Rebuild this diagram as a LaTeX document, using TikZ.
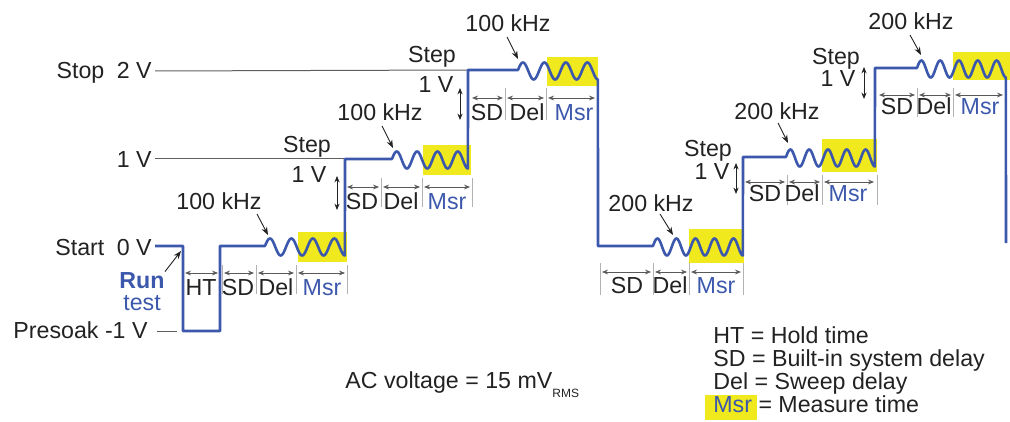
\documentclass[tikz,border=0pt]{standalone}
\usepackage{fontspec}
\setmainfont{Liberation Sans}
\usetikzlibrary{arrows.meta}
\definecolor{trblue}{RGB}{60,88,172}
\definecolor{msryellow}{RGB}{240,233,30}
\definecolor{txtdark}{RGB}{34,34,34}
\definecolor{guidegray}{RGB}{95,95,95}
\definecolor{tickgray}{RGB}{178,178,178}
\begin{document}
\begin{tikzpicture}[x=0.5pt,y=-0.5pt,
  lbl/.style={inner sep=0pt,anchor=base,text=txtdark,font=\fontsize{11.6}{13}\selectfont},
  lvl/.style={lbl,anchor=base east},
  msrlbl/.style={lbl,text=trblue},
  trace/.style={trblue,line width=1.3pt,line join=round},
  guide/.style={guidegray,line width=0.5pt},
  dimspan/.style={{Stealth[length=3pt,width=2.4pt]}-{Stealth[length=3pt,width=2.4pt]},txtdark!75,line width=0.4pt},
  divline/.style={tickgray,line width=0.5pt},
  stepspan/.style={{Stealth[length=3.2pt,width=2.6pt]}-{Stealth[length=3.2pt,width=2.6pt]},txtdark,line width=0.45pt},
  ptr/.style={-{Stealth[length=4pt,width=3pt]},txtdark,line width=0.45pt}]
\useasboundingbox (0,0) rectangle (1010,422);
\fill[msryellow] (298,232) rectangle (347,262);
\fill[msryellow] (423,145) rectangle (471,175);
\fill[msryellow] (547,57) rectangle (598,86);
\fill[msryellow] (689,229) rectangle (744,263);
\fill[msryellow] (822,139) rectangle (877,172);
\fill[msryellow] (953,52) rectangle (1010,80);
\node[lvl] (stop) at (152,79) {Stop\hspace{3pt} 2 V};
\node[lvl] (one) at (152,168) {1 V};
\node[lvl] (start) at (152,255) {Start\hspace{3pt} 0 V};
\node[lvl] (presoak) at (148,338) {Presoak -1 V};
\draw[guide] (stop.base east) ++(3,-8) coordinate (g2) -- (468,70);
\draw[guide] (one.base east) ++(3,-9) coordinate (g1) -- (344,159);
\draw[guide] (157,331) -- (177,331);
\draw[trace] (155,246) -- (183,246) -- (183,331) -- (220,331) -- (220,246) -- (265,246)
  -- plot[variable=\t,domain=0:1,samples=120] ({265+\t*80},{247-8.5*sin(6.76+\t*1343.24)})
  -- (345,159) -- (392,159)
  -- plot[variable=\t,domain=0:1,samples=120] ({392+\t*76},{160-8.5*sin(6.76+\t*1343.24)})
  -- (468,70) -- (518,70)
  -- plot[variable=\t,domain=0:1,samples=120] ({518+\t*80},{71-8.5*sin(6.76+\t*1343.24)})
  -- (598,246) -- (653,246)
  -- plot[variable=\t,domain=0:1,samples=150] ({653+\t*90},{247-8.5*sin(6.76+\t*1703.24)})
  -- (743,157) -- (786,157)
  -- plot[variable=\t,domain=0:1,samples=150] ({786+\t*89},{158-8.5*sin(6.76+\t*1703.24)})
  -- (875,68) -- (917,68)
  -- plot[variable=\t,domain=0:1,samples=150] ({917+\t*89},{69-8.5*sin(6.76+\t*1703.24)})
  -- (1006,243);
\node[lbl,text=trblue,font=\fontsize{11.6}{13}\selectfont\bfseries] (run) at (142,288) {Run};
\node[lbl,text=trblue] (test) at (142,310) {test};
\coordinate (runtip) at (181,251);
\draw[ptr] (run.north east) -- (runtip);
\draw[divline] (222,265) -- (222,294);
\draw[divline] (256,265) -- (256,294);
\draw[divline] (296,265) -- (296,294);
\draw[divline] (347,265) -- (347,294);
\draw[dimspan] (185,273) -- (218,273);
\draw[dimspan] (224,273) -- (254,273);
\draw[dimspan] (258,273) -- (294,273);
\draw[dimspan] (298,273) -- (345,273);
\node[lbl] (a0ht) at (201,295) {HT};
\node[lbl] (a0sd) at (238,295) {SD};
\node[lbl] (a0del) at (276,295) {Del};
\node[msrlbl] (a0msr) at (322,295) {Msr};
\node[lbl] (k0) at (219,209) {100 kHz};
\coordinate (k0tip) at (268,235);
\draw[ptr] ([xshift=19pt,yshift=-2.5pt]k0.base) -- (k0tip);
\node[lbl] (a1step) at (307,153) {Step};
\node[lbl] (a1v) at (309,183) {1 V};
\draw[stepspan] (337,176) -- (337,210);
\draw[divline] (381,178) -- (381,207);
\draw[divline] (422,178) -- (422,207);
\draw[divline] (472,178) -- (472,207);
\draw[dimspan] (347,187) -- (379,187);
\draw[dimspan] (383,187) -- (420,187);
\draw[dimspan] (424,187) -- (470,187);
\node[lbl] (a1sd) at (362,210) {SD};
\node[lbl] (a1del) at (401,210) {Del};
\node[msrlbl] (a1msr) at (447,210) {Msr};
\node[lbl] (k1) at (380,121) {100 kHz};
\coordinate (k1tip) at (393,148);
\draw[ptr] ([xshift=1pt,yshift=-2.5pt]k1.base) -- (k1tip);
\node[lbl] (a2step) at (432,63) {Step};
\node[lbl] (a2v) at (436,93) {1 V};
\draw[stepspan] (460,88) -- (460,120);
\draw[divline] (505,88) -- (505,120);
\draw[divline] (546,88) -- (546,120);
\draw[dimspan] (472,98) -- (503,98);
\draw[dimspan] (507,98) -- (544,98);
\draw[dimspan] (548,98) -- (595,98);
\node[lbl] (a2sd) at (487,121) {SD};
\node[lbl] (a2del) at (527,121) {Del};
\node[msrlbl] (a2msr) at (574,121) {Msr};
\node[lbl] (k2) at (508,32) {100 kHz};
\coordinate (k2tip) at (518,59);
\draw[ptr] ([xshift=-0.5pt,yshift=-2.5pt]k2.base) -- (k2tip);
\draw[divline] (600,263) -- (600,295);
\draw[divline] (653,263) -- (653,295);
\draw[divline] (689,263) -- (689,295);
\draw[divline] (743,263) -- (743,295);
\draw[dimspan] (602,272) -- (651,272);
\draw[dimspan] (655,272) -- (687,272);
\draw[dimspan] (691,272) -- (741,272);
\node[lbl] (b0sd) at (627,293) {SD};
\node[lbl] (b0del) at (670,293) {Del};
\node[msrlbl] (b0msr) at (716,293) {Msr};
\node[lbl] (k3) at (651,212) {200 kHz};
\coordinate (k3tip) at (673,235);
\draw[ptr] ([xshift=4.5pt,yshift=-1pt]k3.base) -- (k3tip);
\node[lbl] (b1step) at (708,157) {Step};
\node[lbl] (b1v) at (712,180) {1 V};
\draw[stepspan] (736,163) -- (736,194);
\draw[divline] (787,175) -- (787,205);
\draw[divline] (822,175) -- (822,205);
\draw[divline] (877,175) -- (877,205);
\draw[dimspan] (745,182) -- (785,182);
\draw[dimspan] (789,182) -- (820,182);
\draw[dimspan] (824,182) -- (874,182);
\node[lbl] (b1sd) at (765,202) {SD};
\node[lbl] (b1del) at (802,202) {Del};
\node[msrlbl] (b1msr) at (848,202) {Msr};
\node[lbl] (k4) at (777,120) {200 kHz};
\coordinate (k4tip) at (788,143);
\draw[ptr] ([xshift=0.5pt,yshift=-1.5pt]k4.base) -- (k4tip);
\node[lbl] (b2step) at (836,65) {Step};
\node[lbl] (b2v) at (838,87) {1 V};
\draw[stepspan] (864,67) -- (864,99);
\draw[divline] (917,88) -- (917,117);
\draw[divline] (953,88) -- (953,117);
\draw[dimspan] (879,95) -- (915,95);
\draw[dimspan] (919,95) -- (951,95);
\draw[dimspan] (955,95) -- (1003,95);
\node[lbl] (b2sd) at (897,115) {SD};
\node[lbl] (b2del) at (934,115) {Del};
\node[msrlbl] (b2msr) at (980,115) {Msr};
\node[lbl] (k5) at (911,30) {200 kHz};
\coordinate (k5tip) at (921,55);
\draw[ptr] ([xshift=-0.5pt,yshift=-2.5pt]k5.base) -- (k5tip);
\node[lbl,anchor=base west] (acv) at (345,388) {AC voltage = 15 mV\raisebox{-4.5pt}{\fontsize{6}{7}\selectfont RMS}};
\fill[msryellow] (705,395) rectangle (757,420);
\node[lbl,anchor=base west] (lght) at (713,343) {HT = Hold time};
\node[lbl,anchor=base west] (lgsd) at (713,366) {SD = Built-in system delay};
\node[lbl,anchor=base west] (lgdel) at (713,389) {Del = Sweep delay};
\node[lbl,anchor=base west] (lgmsr) at (713,412) {\textcolor{trblue}{Msr} = Measure time};
\end{tikzpicture}
\end{document}
